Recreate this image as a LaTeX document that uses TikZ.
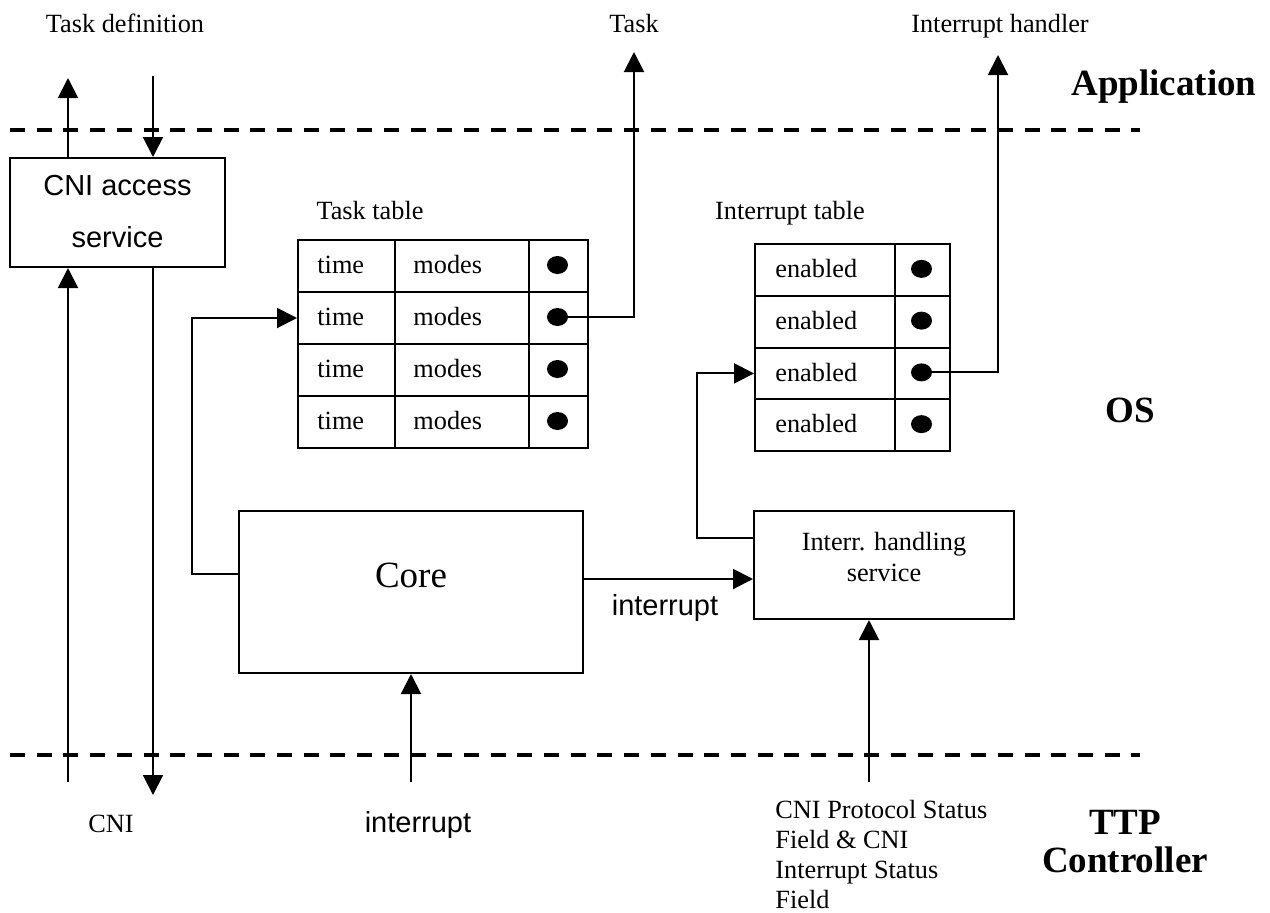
\documentclass[tikz,border=0pt]{standalone}
\usepackage{fontspec}
\setmainfont{Liberation Serif}
\newfontfamily\arialfont{Liberation Sans}
\usetikzlibrary{arrows.meta,shapes.geometric}

\tikzset{
  box/.style={draw, line width=1pt, inner sep=0pt},
  cell/.style={draw, line width=1pt, inner sep=0pt, minimum height=26pt},
  icell/.style={draw, line width=1pt, inner sep=0pt, minimum height=25.875pt},
  dot/.style={ellipse, fill=black, inner sep=0pt, minimum width=10.5pt, minimum height=9pt},
  arr/.style={line width=1pt, -{Triangle[length=10pt,width=10pt]}},
  layerline/.style={line width=2pt, dash pattern=on 7.5pt off 5.85pt},
  txt/.style={inner sep=0pt, font=\fontsize{13.15}{15}\selectfont},
  sans/.style={inner sep=0pt, font=\arialfont\fontsize{14.5}{17}\selectfont},
  layer/.style={inner sep=0pt, font=\bfseries\fontsize{18.5}{22}\selectfont},
  big/.style={inner sep=0pt, font=\fontsize{18.5}{22}\selectfont}
}

\begin{document}
\begin{tikzpicture}[x=0.5pt,y=-0.5pt]
\path[use as bounding box] (0,0) rectangle (1270,912);

% layer separators
\coordinate (top-l) at (10,130);
\coordinate (top-r) at (1140,130);
\coordinate (bot-l) at (10,755);
\coordinate (bot-r) at (1140,755);
\draw[layerline] (top-l) -- (top-r);
\draw[layerline] (bot-l) -- (bot-r);

% layer names
\node[layer, anchor=base] (app) at (1164,95) {Application};
\node[layer, anchor=base] (os) at (1130,422) {OS};
\node[layer, anchor=base] (ttp1) at (1125,834) {TTP};
\node[layer, anchor=base] (ttp2) at (1125,872) {Controller};

% CNI access service
\node[box, minimum width=107.5pt, minimum height=54.5pt] (cni) at (117.5,212.5) {};
\node[sans, anchor=base] (cni-t1) at (117.5,195) {CNI access};
\node[sans, anchor=base] (cni-t2) at (117.5,247) {service};

\node[txt, anchor=base] (taskdef) at (125,32) {Task definition};
\coordinate (td-up) at (68,78);
\coordinate (td-down) at (153,76);
\draw[arr] (cni.north -| td-up) -- (td-up);
\draw[arr] (td-down) -- (cni.north -| td-down);

\coordinate (cni-in) at (68,782);
\coordinate (cni-out) at (153,795);
\draw[arr] (cni-in) -- (cni.south -| cni-in);
\draw[arr] (cni.south -| cni-out) -- (cni-out);
\node[txt, anchor=base] (cni-lbl) at (111,832) {CNI};

% Task table
\node[txt, anchor=base] (tt-lbl) at (370,219) {Task table};
\foreach \i in {1,...,4} {
  \pgfmathsetmacro{\yt}{239+52*(\i-1)}
  \pgfmathsetmacro{\ym}{\yt+26}
  \pgfmathsetmacro{\yb}{\yt+34}
  \node[cell, minimum width=48.5pt, anchor=north west] (tt-\i-1) at (297,\yt) {};
  \node[cell, minimum width=67pt, anchor=north west] (tt-\i-2) at (394,\yt) {};
  \node[cell, minimum width=29.5pt, anchor=north west] (tt-\i-3) at (528,\yt) {};
  \node[txt, anchor=base west] (tt-\i-a) at (317,\yb) {time};
  \node[txt, anchor=base west] (tt-\i-b) at (413,\yb) {modes};
  \node[dot] (tt-\i-d) at (557.5,\ym) {};
}

% Interrupt table
\node[txt, anchor=base] (it-lbl) at (790,219) {Interrupt table};
\foreach \i in {1,...,4} {
  \pgfmathsetmacro{\yt}{243+51.75*(\i-1)}
  \pgfmathsetmacro{\ym}{\yt+25.875}
  \pgfmathsetmacro{\yb}{\yt+34.5}
  \node[icell, minimum width=70pt, anchor=north west] (it-\i-1) at (754,\yt) {};
  \node[icell, minimum width=27.5pt, anchor=north west] (it-\i-2) at (894,\yt) {};
  \node[txt, anchor=base west] (it-\i-a) at (775,\yb) {enabled};
  \node[dot] (it-\i-d) at (921.5,\ym) {};
}

% outgoing references
\node[txt, anchor=base] (task-lbl) at (634,32) {Task};
\coordinate (task-up) at (634,52);
\draw[arr] (tt-2-d.center) -| (task-up);

\node[txt, anchor=base] (ih-lbl) at (1000,32) {Interrupt handler};
\coordinate (hand-up) at (998,55);
\draw[arr] (it-3-d.center) -| (hand-up);

% Core
\node[box, minimum width=172pt, minimum height=81pt] (core) at (411,592) {};
\node[big, anchor=base] (core-t) at (411,587) {Core};

% Interrupt handling service
\node[box, minimum width=130pt, minimum height=54pt] (ih) at (884,565) {};
\node[txt, anchor=base] (ih-t1) at (884,550) {Interr. handling};
\node[txt, anchor=base] (ih-t2) at (884,581) {service};

% Core -> task table
\coordinate (core-l) at (192,574);
\draw[arr] (core.west |- core-l) -- (core-l) |- (tt-2-1.west);

% Core -> interrupt handling
\coordinate (core-r) at (600,579);
\draw[arr] (core.east |- core-r) -- (ih.west |- core-r);
\node[sans, anchor=base] (int-mid) at (665,615) {interrupt};

% interrupt handling -> interrupt table
\coordinate (ih-l) at (697,538);
\draw[arr] (ih.west |- ih-l) -- (ih-l) |- (it-3-1.west);

% inputs from the controller
\coordinate (int-in) at (411,782);
\draw[arr] (int-in) -- (core.south -| int-in);
\node[sans, anchor=base] (int-bot) at (418,832) {interrupt};

\coordinate (st-in) at (869,782);
\draw[arr] (st-in) -- (ih.south -| st-in);
\node[txt, anchor=base west] (st1) at (775,818) {CNI Protocol Status};
\node[txt, anchor=base west] (st2) at (775,848) {Field \& CNI};
\node[txt, anchor=base west] (st3) at (775,878) {Interrupt Status};
\node[txt, anchor=base west] (st4) at (775,908) {Field};
\end{tikzpicture}
\end{document}
